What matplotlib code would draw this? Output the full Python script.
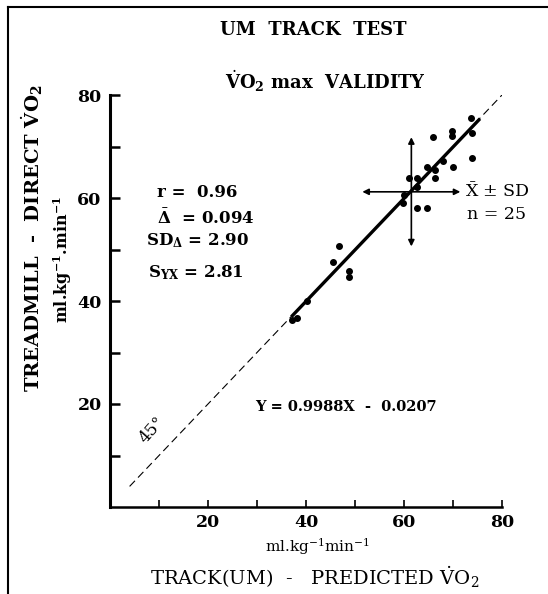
import matplotlib.pyplot as plt
from matplotlib.lines import Line2D
import numpy as np

plt.rcParams["font.family"] = "DejaVu Serif"
plt.rcParams["mathtext.fontset"] = "dejavuserif"

# track (UM) predicted VO2 vs treadmill direct VO2, ml/kg/min
x_track = [73.7, 65.9, 69.8, 69.8, 73.9, 73.9, 68.0, 70.0, 66.3, 66.3,
           61.0, 62.7, 62.7, 60.0, 59.8, 62.7, 64.7, 64.7, 46.7, 45.5,
           48.8, 48.8, 40.2, 38.2, 37.1]
y_treadmill = [75.5, 71.8, 73.0, 72.0, 72.6, 67.8, 67.2, 66.0, 65.4, 63.9,
               63.9, 63.9, 62.1, 60.6, 59.0, 58.1, 58.1, 66.0, 50.7, 47.6,
               45.8, 44.7, 40.0, 36.7, 36.3]

mean_x, sd_x = 61.5, 10.0
mean_y, sd_y = 61.2, 10.6

slope, intercept = 0.9988, -0.0207
fit_range = [37.0, 75.5]
identity_range = [4.0, 80.0]

fig = plt.figure(figsize=(5.48, 5.94), dpi=100)
W, H = 548, 594
ax = fig.add_axes([110 / W, 87 / H, 392 / W, 412 / H])

# 45 degree line
ax.plot(identity_range, identity_range, color="black", lw=0.8,
        dashes=(7, 4))

# regression line
fx = np.array(fit_range)
ax.plot(fx, slope * fx + intercept, color="black", lw=2.4,
        solid_capstyle="butt")

ax.plot(x_track, y_treadmill, "o", color="black", ms=4)

# mean +/- SD cross
arrow_kw = dict(arrowstyle="<|-|>", color="black", lw=1.2,
                mutation_scale=9, shrinkA=0, shrinkB=0)
ax.annotate("", xy=(mean_x + sd_x, mean_y), xytext=(mean_x - sd_x, mean_y),
            arrowprops=arrow_kw)
ax.annotate("", xy=(mean_x, mean_y + sd_y), xytext=(mean_x, mean_y - sd_y),
            arrowprops=arrow_kw)

ax.text(72.4, 61.2, r"$\bar{\mathrm{X}}$ ± SD", fontsize=12.5, va="center")
ax.text(72.9, 56.7, "n = 25", fontsize=12.5, va="center")

stat_kw = dict(fontsize=12, fontweight="bold", va="center")
ax.text(9.6, 61.0, "r =  0.96", **stat_kw)
ax.text(9.6, 56.1, r"$\mathbf{\bar{\Delta}}$  = 0.094", **stat_kw)
ax.text(7.3, 51.8, r"SD$_\mathbf{\Delta}$ = 2.90", **stat_kw)
ax.text(7.8, 45.6, r"S$_\mathbf{YX}$ = 2.81", **stat_kw)

ax.text(29.6, 19.4, "Y = 0.9988X  -  0.0207", fontsize=10.5,
        fontweight="bold", va="center")
ax.text(8.6, 15.0, "45°", fontsize=12, rotation=48, ha="center",
        va="center")

ax.set_xlim(0, 80)
ax.set_ylim(0, 80)
ax.set_xticks([20, 40, 60, 80])
ax.set_yticks([20, 40, 60, 80])
ax.set_xticks([10, 30, 50, 70], minor=True)
ax.set_yticks([10, 30, 50, 70], minor=True)
ax.tick_params(axis="y", which="both", direction="in", length=7, width=1.8,
               labelsize=12.5, pad=6)
ax.tick_params(axis="x", which="both", direction="in", length=5, width=1.2,
               labelsize=12.5, pad=5)
for lab in ax.get_xticklabels() + ax.get_yticklabels():
    lab.set_fontweight("bold")

for side in ["top", "right"]:
    ax.spines[side].set_visible(False)
ax.spines["left"].set_linewidth(2.2)
ax.spines["bottom"].set_linewidth(1.8)

# titles and axis labels (figure pixel positions)
def ftext(px, py, s, **kw):
    fig.text(px / W, 1 - py / H, s, **kw)

ftext(313, 30, "UM  TRACK  TEST", fontsize=13, fontweight="bold",
      ha="center", va="center")
ftext(325, 81, r"$\dot{\mathbf{V}}\mathbf{O}_\mathbf{2}$ max  VALIDITY",
      fontsize=13, fontweight="bold", ha="center", va="center")

ftext(32, 238, r"TREADMILL  -  DIRECT $\dot{\mathbf{V}}\mathbf{O}_\mathbf{2}$",
      fontsize=14, fontweight="bold", rotation=90, ha="center", va="center")
ftext(63, 260, r"ml.kg$^\mathbf{-1}$.min$^\mathbf{-1}$", fontsize=11.5,
      fontweight="bold", rotation=90, ha="center", va="center")

ftext(318, 547, r"ml.kg$^{-1}$min$^{-1}$", fontsize=11,
      ha="center", va="center")
ftext(315, 577, r"TRACK(UM)  -   PREDICTED $\dot{\mathrm{V}}\mathrm{O}_2$",
      fontsize=14, ha="center", va="center")

# page border
fig.add_artist(Line2D([8 / W, 8 / W], [0, 1 - 7 / H], color="black",
                      lw=1.5, transform=fig.transFigure))
fig.add_artist(Line2D([8 / W, 1], [1 - 7 / H, 1 - 7 / H], color="black",
                      lw=1.5, transform=fig.transFigure))

fig.savefig("out.png", dpi=100)
